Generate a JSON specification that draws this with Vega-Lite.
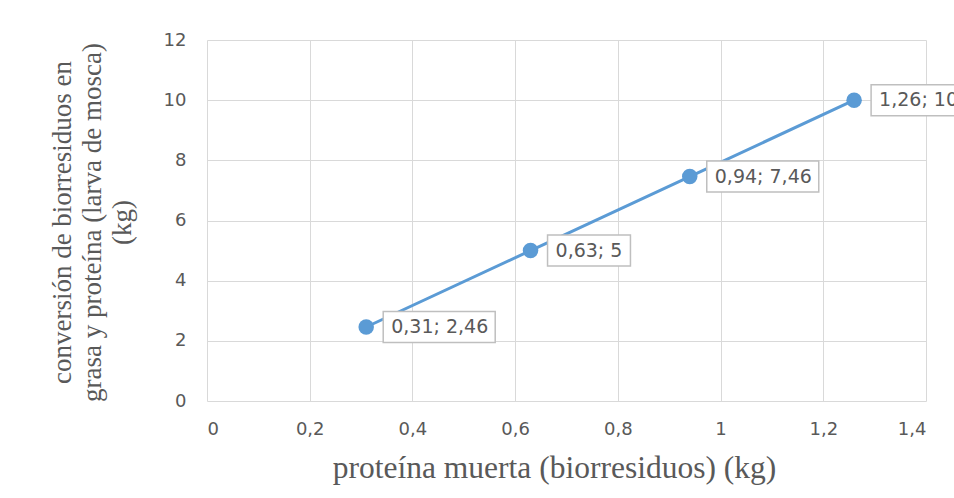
{
  "$schema": "https://vega.github.io/schema/vega-lite/v6.json",
  "width": 719,
  "height": 361,
  "autosize": "none",
  "padding": {"left": 207, "top": 40, "right": 28, "bottom": 97},
  "background": "white",
  "config": {"view": {"stroke": null}},
  "data": {
    "values": [
      {"x": 0.31, "y": 2.46, "label": "0,31; 2,46"},
      {"x": 0.63, "y": 5, "label": "0,63; 5"},
      {"x": 0.94, "y": 7.46, "label": "0,94; 7,46"},
      {"x": 1.26, "y": 10, "label": "1,26; 10"}
    ]
  },
  "encoding": {
    "x": {
      "field": "x",
      "type": "quantitative",
      "scale": {"domain": [0, 1.4], "nice": false, "zero": true},
      "axis": {
        "values": [0, 0.2, 0.4, 0.6, 0.8, 1, 1.2, 1.4],
        "labelExpr": "replace(format(datum.value, '~g'), '.', ',')",
        "title": "proteína muerta (biorresiduos) (kg)",
        "titleFont": "Liberation Serif",
        "titleFontSize": 31.5,
        "titleFontWeight": "normal",
        "titleColor": "#595959",
        "titleX": 347,
        "titleY": 76,
        "titleBaseline": "alphabetic",
        "labelFont": "DejaVu Sans",
        "labelFontSize": 18,
        "labelColor": "#595959",
        "labelPadding": 19,
        "domain": false,
        "ticks": false,
        "grid": true,
        "gridColor": "#d9d9d9",
        "gridWidth": 1
      }
    },
    "y": {
      "field": "y",
      "type": "quantitative",
      "scale": {"domain": [0, 12], "nice": false},
      "axis": {
        "values": [0, 2, 4, 6, 8, 10, 12],
        "title": ["conversión de biorresiduos en", "grasa y proteína (larva de mosca)", "(kg)"],
        "titleFont": "Liberation Serif",
        "titleFontSize": 27,
        "titleLineHeight": 30,
        "titleFontWeight": "normal",
        "titleColor": "#595959",
        "titleAngle": -90,
        "titleX": -137,
        "titleY": 182,
        "titleAlign": "center",
        "titleBaseline": "alphabetic",
        "labelFont": "DejaVu Sans",
        "labelFontSize": 18,
        "labelColor": "#595959",
        "labelPadding": 21,
        "domain": false,
        "ticks": false,
        "grid": true,
        "gridColor": "#d9d9d9",
        "gridWidth": 1
      }
    }
  },
  "layer": [
    {"mark": {"type": "line", "color": "#5b9bd5", "strokeWidth": 3}},
    {
      "mark": {
        "type": "rect",
        "fill": "white",
        "stroke": "#bfbfbf",
        "strokeWidth": 1.5,
        "width": {"expr": "length(datum.label)*9.7+15"},
        "height": 31,
        "xOffset": {"expr": "17+(length(datum.label)*9.7+15)/2"}
      }
    },
    {
      "mark": {
        "type": "text",
        "align": "left",
        "baseline": "middle",
        "dx": 25,
        "font": "DejaVu Sans",
        "fontSize": 19,
        "color": "#595959"
      },
      "encoding": {"text": {"field": "label"}}
    },
    {"mark": {"type": "point", "filled": true, "size": 240, "color": "#5b9bd5", "opacity": 1}}
  ]
}
